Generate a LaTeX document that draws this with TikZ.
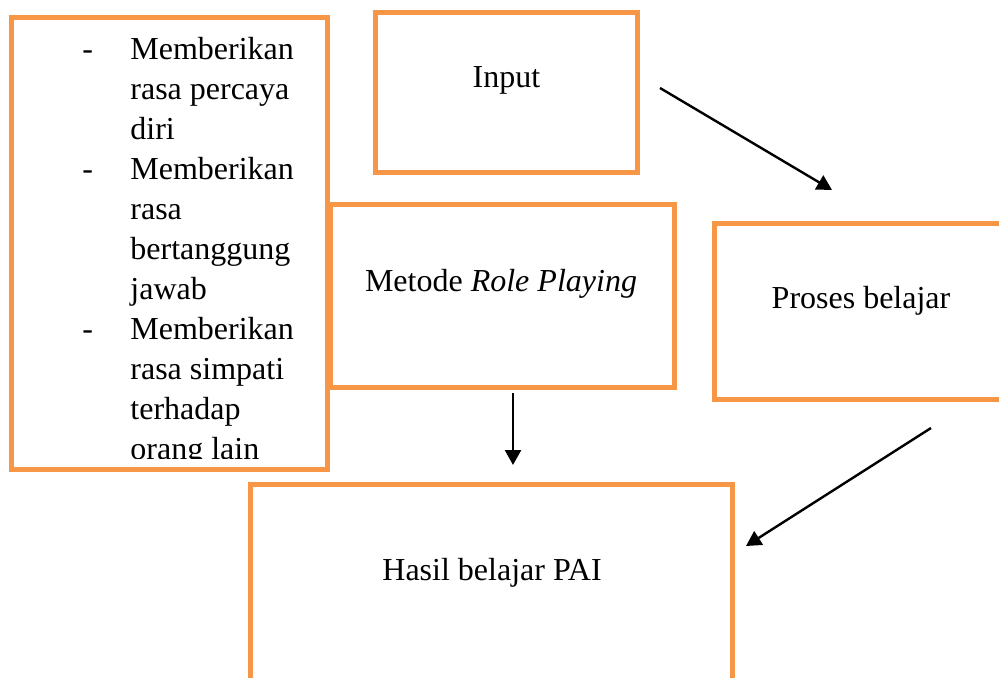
\documentclass[tikz,border=0pt]{standalone}
\usepackage{fontspec}
\setmainfont{Liberation Serif}
\usetikzlibrary{arrows.meta}

\definecolor{boxorange}{HTML}{F79646}

\newcommand{\dashline}[1]{\makebox[24pt][l]{-}#1}
\newcommand{\indline}[1]{\hspace*{24pt}#1}

\tikzset{
box/.style={draw=boxorange, line width=2.5pt, outer sep=0pt, inner sep=0pt},
boxtext/.style={font=\fontsize{16pt}{20pt}\selectfont, inner sep=0pt, anchor=base},
arr/.style={line width=1.2pt, -{Triangle[length=7.5pt,width=8pt]}}
}

\begin{document}
\begin{tikzpicture}[x=0.5pt,y=-0.5pt]

\clip (0,0) rectangle (999,678);

%%%%%%%%%%%%%%%%%%%%%%%%%%%%%%%%%%%%%%%%%%%%%%%%%%%%%%%%%%%%
% Benefits box
%%%%%%%%%%%%%%%%%%%%%%%%%%%%%%%%%%%%%%%%%%%%%%%%%%%%%%%%%%%%

\node[
box,
minimum width=158.25pt,
minimum height=225.75pt
](benefits)
at (169.25,243.25)
{};

\begin{scope}
\clip (14,20) rectangle (325,458);
\node[
boxtext,
anchor=north west,
align=left
](benefitstxt)
at (82,31)
{\strut\dashline{Memberikan}\\
\indline{rasa percaya}\\
\indline{diri}\\
\dashline{Memberikan}\\
\indline{rasa}\\
\indline{bertanggung}\\
\indline{jawab}\\
\dashline{Memberikan}\\
\indline{rasa simpati}\\
\indline{terhadap}\\
\indline{orang lain}};
\end{scope}

%%%%%%%%%%%%%%%%%%%%%%%%%%%%%%%%%%%%%%%%%%%%%%%%%%%%%%%%%%%%
% Input
%%%%%%%%%%%%%%%%%%%%%%%%%%%%%%%%%%%%%%%%%%%%%%%%%%%%%%%%%%%%

\node[
box,
minimum width=131pt,
minimum height=80pt
](input)
at (506.5,92.5)
{};

\node[boxtext](inputtxt) at (506.5,88) {Input};

%%%%%%%%%%%%%%%%%%%%%%%%%%%%%%%%%%%%%%%%%%%%%%%%%%%%%%%%%%%%
% Metode Role Playing
%%%%%%%%%%%%%%%%%%%%%%%%%%%%%%%%%%%%%%%%%%%%%%%%%%%%%%%%%%%%

\node[
box,
minimum width=171.75pt,
minimum height=91.5pt
](metode)
at (502.25,296)
{};

\node[boxtext](metodetxt) at (501,292) {Metode \textit{Role Playing}};

%%%%%%%%%%%%%%%%%%%%%%%%%%%%%%%%%%%%%%%%%%%%%%%%%%%%%%%%%%%%
% Proses belajar
%%%%%%%%%%%%%%%%%%%%%%%%%%%%%%%%%%%%%%%%%%%%%%%%%%%%%%%%%%%%

\node[
box,
minimum width=148.75pt,
minimum height=88pt
](proses)
at (863.25,311.5)
{};

\node[boxtext](prosestxt) at (861,308) {Proses belajar};

%%%%%%%%%%%%%%%%%%%%%%%%%%%%%%%%%%%%%%%%%%%%%%%%%%%%%%%%%%%%
% Hasil belajar PAI
%%%%%%%%%%%%%%%%%%%%%%%%%%%%%%%%%%%%%%%%%%%%%%%%%%%%%%%%%%%%

\node[
box,
minimum width=240.75pt,
minimum height=117.75pt
](hasil)
at (491.25,602.25)
{};

\node[boxtext](hasiltxt) at (492,580) {Hasil belajar PAI};

%%%%%%%%%%%%%%%%%%%%%%%%%%%%%%%%%%%%%%%%%%%%%%%%%%%%%%%%%%%%
% Arrows
%%%%%%%%%%%%%%%%%%%%%%%%%%%%%%%%%%%%%%%%%%%%%%%%%%%%%%%%%%%%

\coordinate (inputout) at (660,88);
\coordinate (prosesin) at (832,190);
\coordinate (metodeout) at (513,393);
\coordinate (hasiltop) at (513,465);
\coordinate (prosesout) at (931,428);
\coordinate (hasilside) at (746,546);

\draw[arr] (inputout) -- (prosesin);
\draw[arr] (metodeout) -- (hasiltop);
\draw[arr] (prosesout) -- (hasilside);

\end{tikzpicture}
\end{document}
